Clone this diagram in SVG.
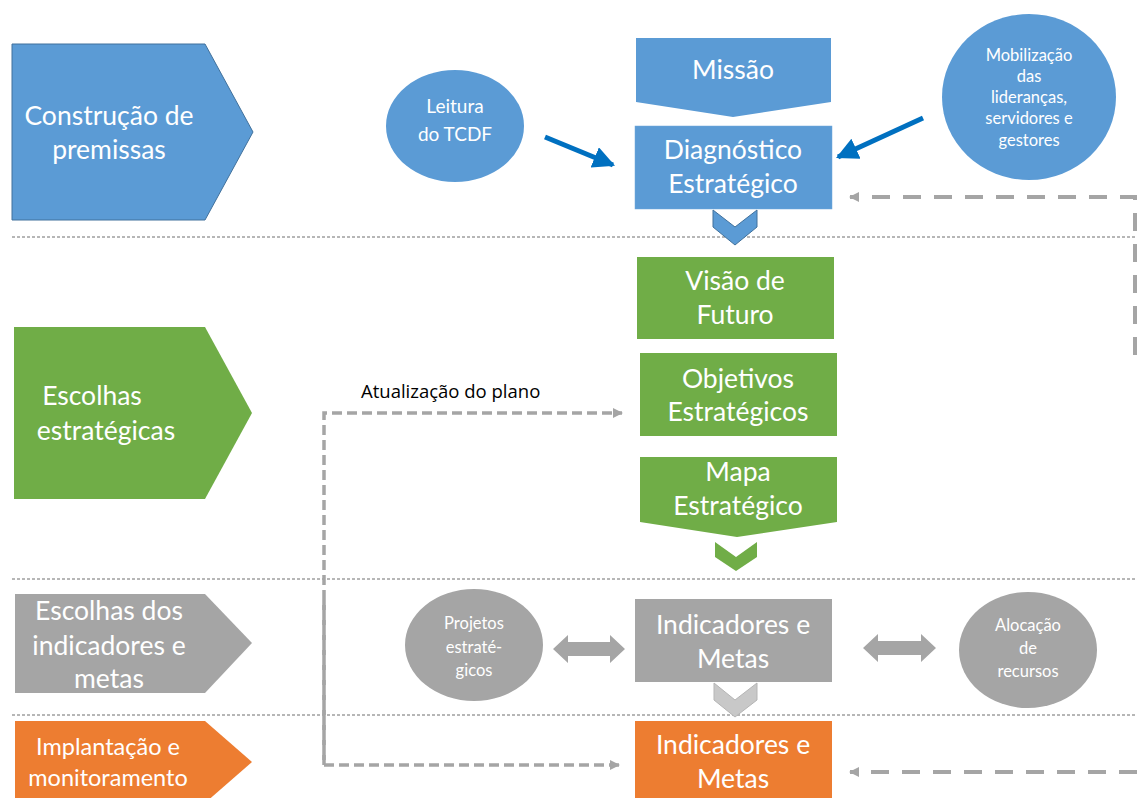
<svg xmlns="http://www.w3.org/2000/svg" width="1137" height="798" viewBox="0 0 1137 798">
<style>
.t{font-family:Lato,"Liberation Sans",sans-serif;fill:#fff;text-anchor:middle}
.big{font-size:26.5px}
.mid{font-size:23.5px}
.sm{font-size:16.5px}
.lb{font-family:"Open Sans","Liberation Sans",sans-serif;font-size:18.5px;fill:#000}
.sep{stroke:#6f6f6f;stroke-width:1;stroke-dasharray:3 2;fill:none}
.dash1{stroke:#A5A5A5;stroke-width:3.5;stroke-dasharray:10 5;fill:none}
.dash2{stroke:#A5A5A5;stroke-width:4;stroke-dasharray:18 13;fill:none}
.blue{fill:#5B9BD5}
.green{fill:#70AD47}
.gray{fill:#A5A5A5}
.orange{fill:#ED7D31}
</style>
<defs>
<marker id="ga" viewBox="0 0 10 10" refX="9" refY="5" markerWidth="10" markerHeight="10" markerUnits="userSpaceOnUse" orient="auto">
<path d="M0,0 L10,5 L0,10 Z" fill="#A5A5A5"/>
</marker>
<marker id="ba" viewBox="0 0 10 10" refX="9" refY="5" markerWidth="4.4" markerHeight="4.4" orient="auto">
<path d="M0,0 L10,5 L0,10 Z" fill="#0070C0"/>
</marker>
</defs>

<g id="separators">
<line class="sep" x1="12" y1="237" x2="1137" y2="237"/>
<line class="sep" x1="12" y1="579" x2="1137" y2="579"/>
<line class="sep" x1="12" y1="715" x2="1137" y2="715"/>
</g>

<g id="phase1">
<polygon points="12,44 205,44 253,132 205,220 12,220" class="blue" stroke="#41719C" stroke-width="1"/>
<text class="t big" x="109" y="125">Construção de</text>
<text class="t big" x="109" y="159">premissas</text>
</g>
<g id="phase2">
<polygon points="14,327 205,327 252,413 205,499 14,499" class="green"/>
<text class="t big" x="92" y="405">Escolhas</text>
<text class="t big" x="106" y="440">estratégicas</text>
</g>
<g id="phase3">
<polygon points="15,594 205,594 252,643 205,693 15,693" class="gray"/>
<text class="t big" x="109" y="620">Escolhas dos</text>
<text class="t big" x="109" y="655">indicadores e</text>
<text class="t big" x="109" y="688">metas</text>
</g>
<g id="phase4">
<polygon points="15,721 205,721 252,762 205,803 15,803" class="orange"/>
<text class="t mid" x="108" y="755">Implantação e</text>
<text class="t mid" x="108" y="786">monitoramento</text>
</g>

<g id="missao">
<polygon points="636,38 831,38 831,102 733,117 636,102" class="blue"/>
<text class="t big" x="733" y="79">Missão</text>
</g>
<g id="diagnostico">
<rect x="635" y="126" width="197" height="83" class="blue" stroke="#6fa8dc" stroke-width="0.5"/>
<text class="t big" x="733" y="159">Diagnóstico</text>
<text class="t big" x="733" y="193">Estratégico</text>
</g>
<g id="chev1">
<polygon points="713,210 735,227 757,210 757,227 735,245 713,227" class="blue" stroke="#41719C" stroke-width="1"/>
</g>
<g id="visao">
<rect x="637" y="257" width="197" height="82" class="green"/>
<text class="t big" x="735" y="290">Visão de</text>
<text class="t big" x="735" y="324">Futuro</text>
</g>
<g id="objetivos">
<rect x="640" y="353" width="197" height="83" class="green"/>
<text class="t big" x="738" y="388">Objetivos</text>
<text class="t big" x="738" y="421">Estratégicos</text>
</g>
<g id="mapa">
<polygon points="640,457 837,457 837,522 737,537 640,522" class="green"/>
<text class="t big" x="738" y="481">Mapa</text>
<text class="t big" x="738" y="515">Estratégico</text>
</g>
<g id="chev2">
<polygon points="715,542 736,557 757,542 757,557 736,571 715,557" class="green"/>
</g>
<g id="indicadores">
<rect x="635" y="599" width="197" height="83" class="gray"/>
<text class="t big" x="733" y="634">Indicadores e</text>
<text class="t big" x="733" y="668">Metas</text>
</g>
<g id="chev3">
<polygon points="714,683 735,700 757,683 757,700 735,717 714,700" fill="#C8C8C8" stroke="#B5B5B5" stroke-width="1"/>
</g>
<g id="indicadores2">
<rect x="635" y="721" width="197" height="80" class="orange"/>
<text class="t big" x="733" y="754">Indicadores e</text>
<text class="t big" x="733" y="788">Metas</text>
</g>

<g id="leitura">
<ellipse cx="455" cy="126" rx="69" ry="56" class="blue"/>
<text class="t" style="font-size:19px" x="455" y="113">Leitura</text>
<text class="t" style="font-size:19px" x="455" y="141">do TCDF</text>
</g>
<g id="mobilizacao">
<ellipse cx="1029" cy="97" rx="87" ry="83" class="blue"/>
<text class="t sm" x="1029" y="61">Mobilização</text>
<text class="t sm" x="1029" y="82">das</text>
<text class="t sm" x="1029" y="103">lideranças,</text>
<text class="t sm" x="1029" y="124">servidores e</text>
<text class="t sm" x="1029" y="146">gestores</text>
</g>
<g id="projetos">
<ellipse cx="474" cy="645" rx="69" ry="56" class="gray"/>
<text class="t sm" x="474" y="629">Projetos</text>
<text class="t sm" x="474" y="653">estraté-</text>
<text class="t sm" x="474" y="676">gicos</text>
</g>
<g id="alocacao">
<ellipse cx="1028" cy="650" rx="69" ry="58" class="gray"/>
<text class="t sm" x="1028" y="631">Alocação</text>
<text class="t sm" x="1028" y="654">de</text>
<text class="t sm" x="1028" y="677">recursos</text>
</g>

<g id="connectors">
<line x1="545" y1="137" x2="613" y2="165" stroke="#0070C0" stroke-width="5" marker-end="url(#ba)"/>
<line x1="923" y1="118" x2="838" y2="157" stroke="#0070C0" stroke-width="5" marker-end="url(#ba)"/>
<polygon points="553,649 568,635 568,642 610,642 610,635 625,649 610,663 610,656 568,656 568,663" fill="#A5A5A5"/>
<polygon points="863,648 878,634 878,641 921,641 921,634 936,648 921,662 921,655 878,655 878,662" fill="#A5A5A5"/>
<path class="dash1" d="M324,765 V413 H622" marker-end="url(#ga)"/>
<path class="dash1" d="M324,600 V765 H619" marker-end="url(#ga)"/>
<path class="dash2" d="M1135,355 V197 H850" marker-end="url(#ga)"/>
<path class="dash2" d="M1137,772 H850" marker-end="url(#ga)"/>
<text class="lb" x="361" y="398">Atualização do plano</text>
</g>
</svg>
